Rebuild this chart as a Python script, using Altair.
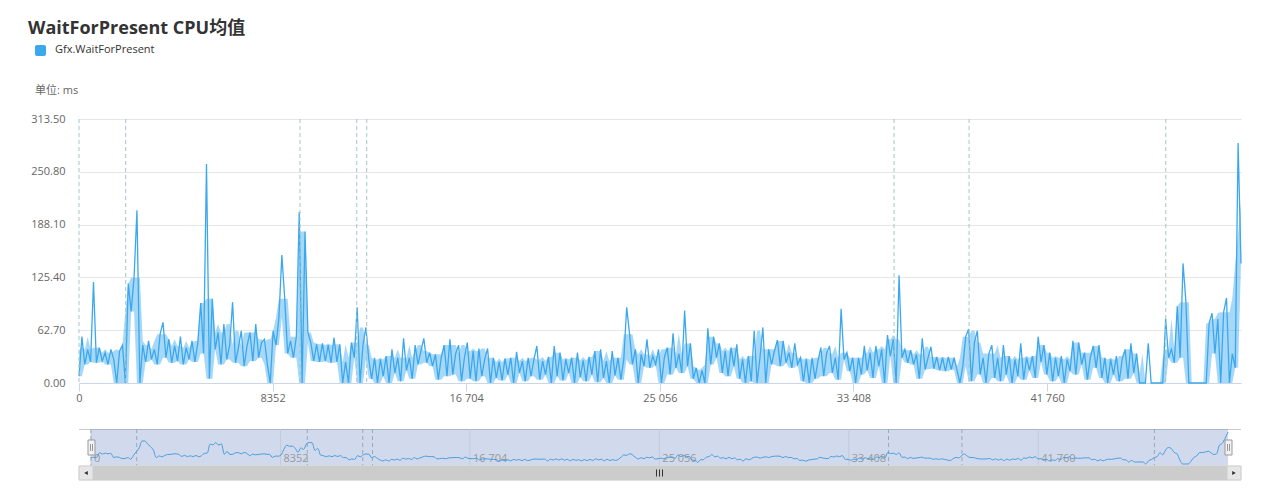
import altair as alt
import pandas as pd

TITLE = "WaitForPresent CPU均值"
SERIES = "Gfx.WaitForPresent"
UNIT = "单位: ms"
STEP = 125  # index spacing of the sampled points

# values, left to right (ms)
seg_a = [8, 55, 22, 40, 25, 120, 24, 42, 26, 36, 22, 40, 28, 0, 38, 45]
seg_b = [0, 118, 85, 125, 205, 0]
seg_c = [45, 25, 50, 28, 40, 22, 58, 72, 30, 52, 24, 44, 26, 55, 22, 42, 28, 50, 25, 48, 95]
seg_d = [35, 260, 5, 100, 40, 60]
seg_e = [22, 70, 28, 45, 96, 24, 42, 62, 20, 44, 60, 26, 70, 30, 48, 52, 22, 0, 62]
seg_f = [45, 78, 152, 100, 35, 50, 30, 55, 203, 0, 180, 60]
seg_g = [48, 26, 46, 25, 47, 26, 45, 24, 54, 25, 46]
seg_h = [0, 25, 0, 48, 30, 90, 0, 45, 66, 28]
seg_i = [5, 30, 0, 28, 8, 32, 0, 40, 12, 30, 2, 53, 15, 30, 5, 45, 22, 38, 53, 24,
         36, 20, 34, 4, 30, 45, 8, 52, 10, 35, 45, 2, 30, 48, 5]
seg_j = [38, 2, 41, 8, 28, 41, 0, 30, 6, 25, 3, 29, 10, 30, 0, 37, 12, 26, 2, 30,
         8, 28, 44, 4, 26, 10, 31, 0, 44, 8, 36, 3, 28, 12, 30, 0, 36, 7, 27, 2,
         31, 10, 38, 1, 40, 6, 26, 0, 38, 9, 30, 4, 28, 90, 58, 22, 40, 0, 34, 20,
         52, 18, 32, 22, 40, 0]
seg_k = [30, 42, 10, 59, 18, 35, 12, 86, 20, 47, 5, 18, 0, 15, 0, 65, 22, 55, 30, 47,
         12, 38, 8, 42, 20, 46, 5, 28, 0, 32, 2, 62, 0, 30, 66, 0, 40, 22, 38, 51,
         20, 50, 24, 36, 18, 47, 22, 30, 2, 28, 0, 30, 5, 26, 42, 8, 35, 44, 12, 30,
         4, 88, 28, 36, 14, 30, 0]
seg_l = [30, 10, 44, 15, 36, 6, 44, 20, 40, 0, 57, 32, 52, 0, 128, 30, 40, 24, 39, 22,
         34, 5, 53, 16, 30, 43, 17, 31, 15, 30, 14, 31, 16, 30, 15]
seg_m = [0, 20, 55, 64, 2, 48, 62, 10, 30, 0, 35, 45, 6, 30, 2, 45, 10, 32, 0, 28,
         8, 47, 4, 30, 15, 32, 6, 55, 25, 45, 10, 36, 2, 30, 8, 32, 0, 28, 14, 50,
         10, 48, 22, 36, 4, 30, 44, 18, 45, 6, 30, 0, 28, 10, 32, 2, 28, 40, 5, 47,
         12, 35, 0]
seg_n = [0, 0, 47, 0, 0, 0, 0, 0, 76, 30, 40, 24, 91, 30, 142, 96, 0, 0, 0, 0,
         0, 0, 0, 71, 83, 35, 76, 0, 84, 101, 0, 35, 18, 285, 142]

values = (seg_a + seg_b + seg_c + seg_d + seg_e + seg_f + seg_g + seg_h + seg_i
          + seg_j + seg_k + seg_l + seg_m + seg_n)
X_MAX = (len(values) - 1) * STEP

y_ticks = [0, 62.7, 125.4, 188.1, 250.8, 313.5]
x_ticks = [0, 8352, 16704, 25056, 33408, 41760]
plot_lines = [0, 2015, 9534, 11980, 12411, 35159, 38395, 46880]

df = pd.DataFrame({"x": [i * STEP for i in range(len(values))], "v": values})
ticks_df = pd.DataFrame({"x": x_ticks})
pl_df = pd.DataFrame({"x": plot_lines})
one = pd.DataFrame({"t": [TITLE], "s": [SERIES], "u": [UNIT], "a": [0], "b": [X_MAX]})

FONT = "Open Sans, Noto Sans CJK SC, sans-serif"
LINE_COLOR = "#3ba8ee"
PL_COLOR = "#a3c6c8"
W, H = 1162, 264

label_expr = ("datum.value < 10000 ? format(datum.value, 'd') : "
              "replace(format(datum.value, ','), ',', ' ')")

main_scale = alt.Scale(domain=[0, X_MAX], nice=False, zero=False)
y_scale = alt.Scale(domain=[0, 313.5], nice=False)
nav_scale = alt.Scale(domain=[0, X_MAX], range=[12, 1149], nice=False, zero=False)

# dense-signal look: band between the local low and the local upper quartile
band = alt.Chart(df).transform_window(
    lo="min(v)", frame=[-1, 1], sort=[alt.SortField("x")]
).transform_window(
    hi="q3(v)", frame=[-2, 2], sort=[alt.SortField("x")]
).mark_area(color=LINE_COLOR, opacity=0.45).encode(
    x=alt.X("x:Q", scale=main_scale, axis=None),
    y=alt.Y("lo:Q", scale=y_scale, axis=None),
    y2="hi:Q",
)

line = alt.Chart(df).mark_line(color=LINE_COLOR, strokeWidth=1.3).encode(
    x=alt.X("x:Q", scale=main_scale,
            axis=alt.Axis(values=x_ticks, labelExpr=label_expr, grid=False, tickSize=8,
                          tickColor="#ccd6eb", domainColor="#ccd6eb", labelColor="#666666",
                          labelFontSize=11, labelFont=FONT, labelPadding=1, labelFlush=False,
                          title=None)),
    y=alt.Y("v:Q", scale=y_scale,
            axis=alt.Axis(values=y_ticks, format=".2f", grid=True, gridColor="#e6e6e6",
                          domain=False, ticks=False, labelPadding=14, labelColor="#666666",
                          labelFontSize=11, labelFont=FONT, title=None)),
)

plines = alt.Chart(pl_df).mark_rule(color=PL_COLOR, strokeDash=[4, 3], strokeWidth=1).encode(
    x=alt.X("x:Q", scale=main_scale, axis=None)
)

# navigator
nav_outline = alt.Chart(one).mark_rule(color="#cccccc", strokeWidth=1).encode(
    x=alt.value(0), x2=alt.value(W), y=alt.value(310.5)
)
nav_mask = alt.Chart(one).mark_rect(fill="rgba(102,133,194,0.3)").encode(
    x=alt.X("a:Q", scale=nav_scale, axis=None), x2="b:Q",
    y=alt.value(310), y2=alt.value(347)
)
nav_grid = alt.Chart(ticks_df).mark_rule(color="#c3c9dc", strokeWidth=1).encode(
    x=alt.X("x:Q", scale=nav_scale, axis=None), y=alt.value(310), y2=alt.value(347)
)
nav_pl = alt.Chart(pl_df).mark_rule(color="#98a9b8", strokeDash=[4, 3], strokeWidth=1).encode(
    x=alt.X("x:Q", scale=nav_scale, axis=None), y=alt.value(310), y2=alt.value(347)
)
nav_labels = alt.Chart(ticks_df).transform_calculate(
    lab="datum.x < 10000 ? format(datum.x, 'd') : replace(format(datum.x, ','), ',', ' ')"
).mark_text(align="left", baseline="alphabetic", dx=3, fontSize=11, font=FONT,
            color="#999999").encode(
    x=alt.X("x:Q", scale=nav_scale, axis=None), y=alt.value(343), text="lab:N"
)
nav_line = alt.Chart(df).transform_window(
    sv="mean(v)", frame=[-2, 2], sort=[alt.SortField("x")]
).mark_line(color="#4a9ddd", strokeWidth=1, interpolate="monotone").encode(
    x=alt.X("x:Q", scale=nav_scale, axis=None),
    y=alt.Y("sv:Q", scale=alt.Scale(range=[345, 313], zero=False, nice=False), axis=None),
)
handles = []
for hx in (9, 1146):
    handles.append(alt.Chart(one).mark_rect(fill="#f2f2f2", stroke="#999999", strokeWidth=1).encode(
        x=alt.value(hx), x2=alt.value(hx + 7), y=alt.value(321), y2=alt.value(336)))
    for dx in (2.5, 4.5):
        handles.append(alt.Chart(one).mark_rule(color="#999999", strokeWidth=1).encode(
            x=alt.value(hx + dx), y=alt.value(325), y2=alt.value(332)))

# scrollbar
sb_track = alt.Chart(one).mark_rect(fill="#f2f2f2", stroke="#f2f2f2").encode(
    x=alt.value(0), x2=alt.value(W), y=alt.value(347), y2=alt.value(361))
sb_bar = alt.Chart(one).mark_rect(fill="#cccccc", stroke="#cccccc").encode(
    x=alt.value(14), x2=alt.value(W - 14), y=alt.value(347), y2=alt.value(361))
sb_btns = [
    alt.Chart(one).mark_rect(fill="#e6e6e6", stroke="#cccccc").encode(
        x=alt.value(bx), x2=alt.value(bx + 14), y=alt.value(347), y2=alt.value(361))
    for bx in (0, W - 14)
]
sb_arrows = [
    alt.Chart(one).mark_point(shape=shp, filled=True, color="#333333", size=18, opacity=1).encode(
        x=alt.value(ax), y=alt.value(354))
    for shp, ax in (("triangle-left", 7), ("triangle-right", W - 7))
]
rifles = [
    alt.Chart(one).mark_rule(color="#333333", strokeWidth=1).encode(
        x=alt.value(rx), y=alt.value(350.5), y2=alt.value(357.5))
    for rx in (577.5, 580.5, 583.5)
]

# header texts
title = alt.Chart(one).mark_text(align="left", baseline="alphabetic", fontSize=18,
                                 fontWeight="bold", font=FONT, color="#333333").encode(
    text="t:N", x=alt.value(-51), y=alt.value(-85))
leg_sym = alt.Chart(one).mark_rect(fill=LINE_COLOR, cornerRadius=2).encode(
    x=alt.value(-44), x2=alt.value(-33), y=alt.value(-74), y2=alt.value(-63))
leg_txt = alt.Chart(one).mark_text(align="left", baseline="middle", fontSize=11,
                                   font=FONT, color="#333333").encode(
    text="s:N", x=alt.value(-24), y=alt.value(-69))
unit = alt.Chart(one).mark_text(align="left", baseline="middle", fontSize=11,
                                font=FONT, color="#666666").encode(
    text="u:N", x=alt.value(-44), y=alt.value(-28))

layers = [band, line, plines, nav_outline, nav_mask, nav_grid, nav_pl, nav_labels, nav_line,
          sb_track, sb_bar] + sb_btns + sb_arrows + rifles + handles + [title, leg_sym, leg_txt, unit]

chart = alt.layer(*layers).resolve_scale(x="independent", y="independent").properties(
    width=W, height=H,
    autosize=alt.AutoSizeParams(type="none"),
    padding={"left": 71, "top": 111, "right": 20, "bottom": 100},
).configure_view(stroke=None)

chart.save("out.html", embed_options={"renderer": "svg", "actions": False})
